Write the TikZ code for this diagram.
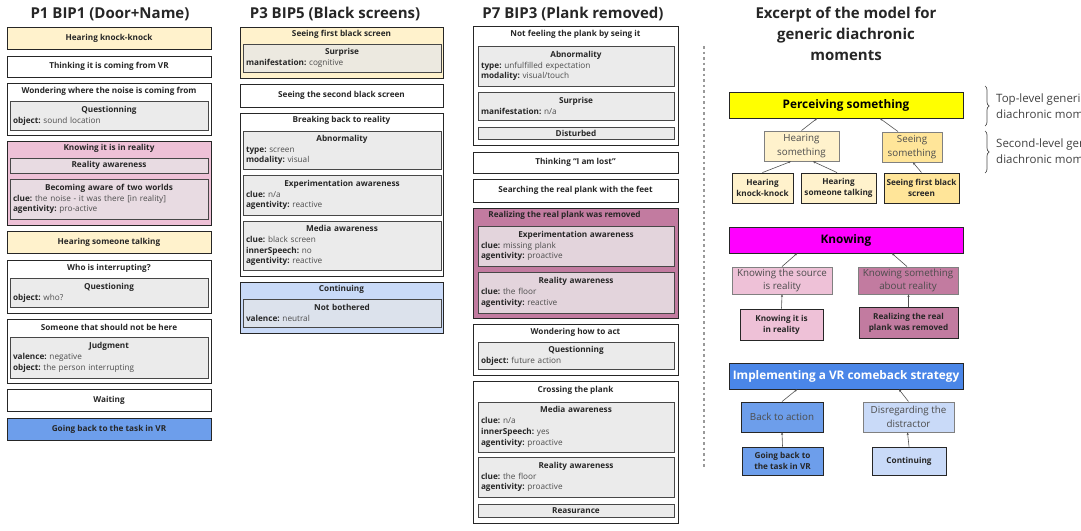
\documentclass[tikz,border=0pt]{standalone}
\usepackage{fontspec}
\setmainfont{Open Sans}
\usetikzlibrary{arrows.meta,decorations.pathreplacing}
\definecolor{ink}{HTML}{262626}
\definecolor{valgray}{HTML}{4D4D4D}
\definecolor{facetgray}{HTML}{EBEBEB}
\definecolor{paleyellow}{HTML}{FFF2CC}
\definecolor{gold}{HTML}{FFE599}
\definecolor{palepink}{HTML}{EEC1D7}
\definecolor{mauve}{HTML}{C27BA0}
\definecolor{cornflower}{HTML}{4A86E8}
\definecolor{midblue}{HTML}{6D9EEB}
\definecolor{paleblue}{HTML}{C9DAF8}
\definecolor{pureyellow}{HTML}{FFFF00}
\definecolor{puremagenta}{HTML}{FF00FF}
\definecolor{pinkfacet}{HTML}{E8DBE2}
\definecolor{mauvefacet}{HTML}{E3D4DC}
\definecolor{yellowfacet}{HTML}{ECE9E0}
\definecolor{bluefacet}{HTML}{DCE2EC}
\newcommand\ftitle[1]{{\centering\textbf{#1}\par}}
\newcommand\kv[2]{\textbf{#1}\ \textcolor{valgray}{#2}}
\frenchspacing
\tikzset{
  moment/.style={draw=ink, line width=1pt, minimum width=#1, inner sep=0pt,
    text=ink, font=\bfseries\fontsize{8.2}{9}\selectfont},
  moment/.default=204,
  mtitle/.style={inner sep=0pt, text=ink, font=\bfseries\fontsize{8.2}{9}\selectfont},
  facet/.style={draw=ink!85, line width=0.8pt, fill=facetgray, text width=#1,
    inner xsep=3pt, inner ysep=0pt, text=ink, font=\fontsize{8.2}{10.8}\selectfont,
    execute at begin node={\parindent=0pt}},
  facet/.default=192,
  coltitle/.style={inner sep=0pt, text=ink, align=center, font=\bfseries\fontsize{15}{21}\selectfont},
  generic/.style={draw=ink, line width=0.9pt, minimum width=234, minimum height=26,
    inner sep=0pt, font=\bfseries\fontsize{11.8}{13}\selectfont},
  sub/.style={draw=black!50, line width=0.9pt, inner sep=0pt, align=center,
    text=black!70, font=\fontsize{9.8}{13.5}\selectfont},
  leaf/.style={draw=ink, line width=0.9pt, inner sep=0pt, align=center,
    text=ink, font=\bfseries\fontsize{8.2}{11}\selectfont},
  link/.style={draw=ink!80, line width=0.6pt, -{Stealth[length=2.5pt,width=2.2pt]}},
  levelnote/.style={inner sep=0pt, anchor=west, align=left, text=black!75,
    font=\fontsize{11.5}{16}\selectfont}
}
\begin{document}
\begin{tikzpicture}[x=1pt,y=-1pt]
  \useasboundingbox (0,0) rectangle (1081,530);
  % P1 BIP1
  \node[coltitle] (t1) at (110,14) {P1 BIP1 (Door+Name)};
  \node[moment, fill=paleyellow, minimum height=22] (a1) at (109,38) {Hearing knock-knock};
  \node[moment, minimum height=21] (a2) at (109,66.5) {Thinking it is coming from VR};
  \node[moment, minimum height=52] (a3) at (109,109) {};
  \node[mtitle] (a3t) at ([yshift=-8.5pt]a3.north) {Wondering where the noise is coming from};
  \node[facet, minimum height=29] (a3f) at (109,115.5) {\ftitle{Questionning}\kv{object:}{sound location}};
  \node[moment, fill=palepink, minimum height=84] (a4) at (109,183) {};
  \node[mtitle] (a4t) at ([yshift=-8pt]a4.north) {Knowing it is in reality};
  \node[facet, fill=pinkfacet, minimum height=15] (a4f) at (109,165.5) {\ftitle{Reality awareness}};
  \node[facet, fill=pinkfacet, minimum height=40] (a4g) at (109,199) {\ftitle{Becoming aware of two worlds}\kv{clue:}{the noise - it was there [in reality]}\\\kv{agentivity:}{pro-active}};
  \node[moment, fill=paleyellow, minimum height=22] (a5) at (109,242.5) {Hearing someone talking};
  \node[moment, minimum height=53] (a6) at (109,286.5) {};
  \node[mtitle] (a6t) at ([yshift=-8.5pt]a6.north) {Who is interrupting?};
  \node[facet, minimum height=29] (a6f) at (109,292.5) {\ftitle{Questioning}\kv{object:}{who?}};
  \node[moment, minimum height=64] (a7) at (109,351) {};
  \node[mtitle] (a7t) at ([yshift=-9pt]a7.north) {Someone that should not be here};
  \node[facet, minimum height=41] (a7f) at (109,357.5) {\ftitle{Judgment}\kv{valence:}{negative}\\\kv{object:}{the person interrupting}};
  \node[moment, minimum height=22] (a8) at (109,400.5) {Waiting};
  \node[moment, fill=midblue, minimum height=22] (a9) at (109,429) {Going back to the task in VR};
  % P3 BIP5
  \node[coltitle] (t2) at (335,14) {P3 BIP5 (Black screens)};
  \node[moment=203, fill=paleyellow, minimum height=51] (b1) at (341.5,52.5) {};
  \node[mtitle] (b1t) at ([yshift=-7.5pt]b1.north) {Seeing first black screen};
  \node[facet, fill=yellowfacet, minimum height=28] (b1f) at (342,58) {\ftitle{Surprise}\kv{manifestation:}{cognitive}};
  \node[moment=203, minimum height=23] (b2) at (341.5,95.5) {Seeing the second black screen};
  \node[moment=203, minimum height=163] (b3) at (341.5,194.5) {};
  \node[mtitle] (b3t) at ([yshift=-8pt]b3.north) {Breaking back to reality};
  \node[facet, minimum height=38] (b3f) at (342,150) {\ftitle{Abnormality}\kv{type:}{screen}\\\kv{modality:}{visual}};
  \node[facet, minimum height=40] (b3g) at (342,195) {\ftitle{Experimentation awareness}\kv{clue:}{n/a}\\\kv{agentivity:}{reactive}};
  \node[facet, minimum height=49] (b3h) at (342,245.5) {\ftitle{Media awareness}\kv{clue:}{black screen}\\\kv{innerSpeech:}{no}\\\kv{agentivity:}{reactive}};
  \node[moment=203, fill=paleblue, minimum height=51] (b4) at (341.5,307.5) {};
  \node[mtitle] (b4t) at ([yshift=-8pt]b4.north) {Continuing};
  \node[facet, fill=bluefacet, minimum height=28] (b4f) at (342,313) {\ftitle{Not bothered}\kv{valence:}{neutral}};
  % P7 BIP3
  \node[coltitle] (t3) at (573,14) {P7 BIP3 (Plank removed)};
  \node[moment=205, minimum height=119] (c1) at (575.5,85.5) {};
  \node[mtitle] (c1t) at ([yshift=-9pt]c1.north) {Not feeling the plank by seing it};
  \node[facet=190, minimum height=40] (c1f) at (576,66) {\ftitle{Abnormality}\kv{type:}{unfulfilled expectation}\\\kv{modality:}{visual/touch}};
  \node[facet=190, minimum height=28] (c1g) at (576,106) {\ftitle{Surprise}\kv{manifestation:}{n/a}};
  \node[facet=190, minimum height=12] (c1h) at (576,133) {\ftitle{Disturbed}};
  \node[moment=205, minimum height=21] (c2) at (575.5,162.5) {Thinking “I am lost”};
  \node[moment=205, minimum height=23] (c3) at (575.5,190.5) {Searching the real plank with the feet};
  \node[moment=205, fill=mauve, minimum height=110] (c4) at (575.5,263) {};
  \node[mtitle] (c4t) at ([xshift=-11pt,yshift=-8pt]c4.north) {Realizing the real plank was removed};
  \node[facet=190, fill=mauvefacet, minimum height=40] (c4f) at (576,246) {\ftitle{Experimentation awareness}\kv{clue:}{missing plank}\\\kv{agentivity:}{proactive}};
  \node[facet=190, fill=mauvefacet, minimum height=41] (c4g) at (576,292.5) {\ftitle{Reality awareness}\kv{clue:}{the floor}\\\kv{agentivity:}{reactive}};
  \node[moment=205, minimum height=51] (c5) at (575.5,349.5) {};
  \node[mtitle] (c5t) at ([yshift=-9pt]c5.north) {Wondering how to act};
  \node[facet=190, minimum height=27] (c5f) at (576,355.5) {\ftitle{Questionning}\kv{object:}{future action}};
  \node[moment=205, minimum height=142] (c6) at (575.5,452) {};
  \node[mtitle] (c6t) at ([yshift=-10pt]c6.north) {Crossing the plank};
  \node[facet=190, minimum height=50] (c6f) at (576,427) {\ftitle{Media awareness}\kv{clue:}{n/a}\\\kv{innerSpeech:}{yes}\\\kv{agentivity:}{proactive}};
  \node[facet=190, minimum height=40] (c6g) at (576,477) {\ftitle{Reality awareness}\kv{clue:}{the floor}\\\kv{agentivity:}{proactive}};
  \node[facet=190, minimum height=13] (c6h) at (576,510.5) {\ftitle{Reasurance}};
  % separator
  \draw[black!40, line width=1.2pt, dash pattern=on 2.5pt off 3pt] (704,46) -- (704,469);
  % model excerpt
  \node[coltitle] (t4) at (846,34) {Excerpt of the model for\\generic diachronic\\moments};
  \node[generic, fill=pureyellow] (perc) at (846,105) {Perceiving something};
  \node[sub, fill=paleyellow, minimum width=75, minimum height=30] (hsom) at (801.5,146) {Hearing\\something};
  \node[sub, fill=gold, minimum width=60, minimum height=30] (ssom) at (912,147) {Seeing\\something};
  \node[leaf, fill=paleyellow, minimum width=61, minimum height=30] (hkk) at (762.5,188) {Hearing\\knock-knock};
  \node[leaf, fill=paleyellow, minimum width=75, minimum height=30] (hst) at (838.5,188) {Hearing\\someone talking};
  \node[leaf, fill=gold, minimum width=75, minimum height=30] (sfb) at (921.5,188) {Seeing first black\\screen};
  \draw[link] (hsom.north) -- ([xshift=-29pt]perc.south);
  \draw[link] ([xshift=-14pt]ssom.north) -- ([xshift=34pt]perc.south);
  \draw[link] (hkk.north) -- ([xshift=-10.5pt]hsom.south);
  \draw[link] ([xshift=-1.5pt]hst.north) -- ([xshift=11.5pt]hsom.south);
  \draw[link] (sfb.north) -- ([xshift=1pt]ssom.south);
  % knowing
  \node[generic, fill=puremagenta] (know) at (846,240) {Knowing};
  \node[sub, fill=palepink, minimum width=100, minimum height=27] (ksrc) at (782,280.5) {Knowing the source\\is reality};
  \node[sub, fill=mauve, minimum width=100, minimum height=27] (kabt) at (908,280.5) {Knowing something\\about reality};
  \node[leaf, fill=palepink, minimum width=83, minimum height=31] (kiir) at (781.5,324.5) {Knowing it is\\in reality};
  \node[leaf, fill=mauve, minimum width=99, minimum height=31] (rprm) at (908.5,322.5) {Realizing the real\\plank was removed};
  \draw[link] (ksrc.north) -- ([xshift=-49pt]know.south);
  \draw[link] ([xshift=-1pt]kabt.north) -- ([xshift=46pt]know.south);
  \draw[link] (kiir.north) -- (ksrc.south);
  \draw[link] (rprm.north) -- ([xshift=0.5pt]kabt.south);
  % comeback strategy
  \node[generic, fill=cornflower, text=white] (impl) at (846,376) {Implementing a VR comeback strategy};
  \node[sub, fill=midblue, draw=ink, minimum width=82, minimum height=30] (back) at (782,417) {Back to action};
  \node[sub, fill=paleblue, minimum width=91, minimum height=30] (disr) at (908.5,417) {Disregarding the\\distractor};
  \node[leaf, fill=midblue, minimum width=81, minimum height=28] (gbt) at (782.5,461) {Going back to\\the task in VR};
  \node[leaf, fill=paleblue, minimum width=74, minimum height=28] (cont) at (909,461) {Continuing};
  \draw[link] (back.north) -- ([xshift=-49pt]impl.south);
  \draw[link] (disr.north) -- ([xshift=53pt]impl.south);
  \draw[link] (gbt.north) -- (back.south);
  \draw[link] (cont.north) -- ([xshift=-1pt]disr.south);
  % levels
  \node[levelnote] (lvl1) at (996,106) {Top-level generic\\diachronic moments};
  \node[levelnote] (lvl2) at (996,151) {Second-level generic\\diachronic moments};
  \draw[black!70, line width=0.7pt, decorate, decoration={brace, amplitude=4pt}]
    ([xshift=-11pt,yshift=20pt]lvl1.west) -- ([xshift=-11pt,yshift=-20pt]lvl1.west);
  \draw[black!70, line width=0.7pt, decorate, decoration={brace, amplitude=4pt}]
    ([xshift=-11pt,yshift=20pt]lvl2.west) -- ([xshift=-11pt,yshift=-22pt]lvl2.west);
\end{tikzpicture}
\end{document}
